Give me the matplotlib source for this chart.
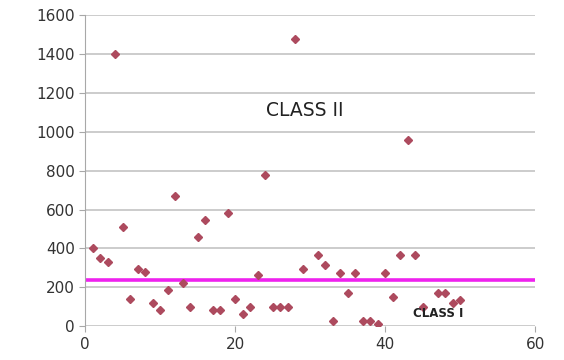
import matplotlib.pyplot as plt

x_vals = [1, 2, 3, 4, 5, 6, 7, 8, 9, 10, 11, 12, 13, 14, 15, 16, 17, 18, 19, 20,
          21, 22, 23, 24, 25, 26, 27, 28, 29, 31, 32, 33, 34, 35, 36, 37, 38, 39,
          40, 41, 42, 43, 44, 45, 47, 48, 49, 50]
y_vals = [400, 350, 330, 1400, 508, 138, 295, 278, 118, 82, 188, 668, 222, 100, 458, 548,
          82, 82, 584, 138, 62, 100, 262, 776, 100, 100, 100, 1476, 292, 365, 315, 25,
          275, 170, 275, 25, 25, 10, 275, 150, 365, 958, 365, 100, 170, 170, 120, 135]

threshold = 235
line_x = [0, 60]

fig = plt.figure(figsize=(5.64, 3.6), dpi=100)
ax = fig.add_axes([0.151, 0.094, 0.798, 0.864])

ax.plot(line_x, [threshold, threshold], color='#ee22ee', linewidth=2.6, zorder=2)
ax.plot(x_vals, y_vals, linestyle='none', marker='D', markersize=4.2,
        color='#ad4a5e', markeredgecolor='#ad4a5e', zorder=3)

ax.set_xlim(0, 60)
ax.set_ylim(0, 1600)
ax.set_xticks([0, 20, 40, 60])
ax.set_yticks(range(0, 1601, 200))
ax.grid(axis='y', color='#c4c4c4', linewidth=1.2)
ax.set_axisbelow(True)

for side in ['top', 'right', 'bottom']:
    ax.spines[side].set_visible(False)
ax.spines['left'].set_color('#a8a8a8')
ax.tick_params(axis='both', colors='#a8a8a8', labelcolor='#333333',
               labelsize=11, length=4, direction='out')

ax.text(29.3, 1110, 'CLASS II', fontsize=13.5, color='#222222', ha='center', va='center')
ax.text(47, 65, 'CLASS I', fontsize=8.5, fontweight='bold', color='#222222',
        ha='center', va='center')

fig.savefig('out.png', dpi=100)
